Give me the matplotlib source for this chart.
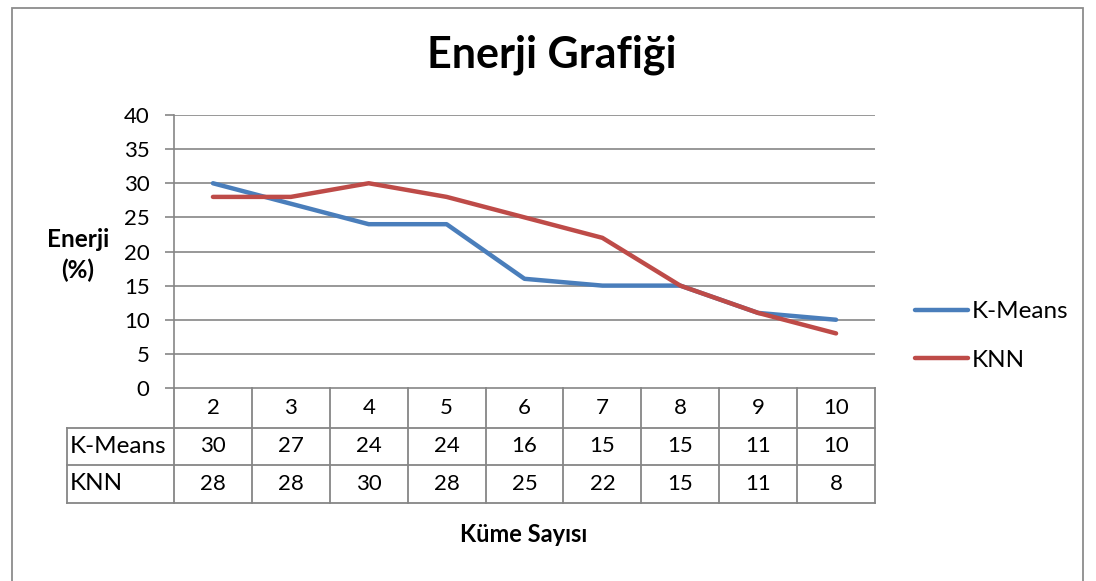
import matplotlib
matplotlib.use("Agg")
import matplotlib.pyplot as plt
from matplotlib.patches import Rectangle
from matplotlib.lines import Line2D

plt.rcParams['font.family'] = ['Lato', 'DejaVu Sans']

categories = ["2", "3", "4", "5", "6", "7", "8", "9", "10"]
kmeans = [30, 27, 24, 24, 16, 15, 15, 11, 10]
knn = [28, 28, 30, 28, 25, 22, 15, 11, 8]
series_names = ["K-Means", "KNN"]
title = "Enerji Grafiği"
ylabel = "Enerji\n(%)"
xlabel = "Küme Sayısı"
yticks = [0, 5, 10, 15, 20, 25, 30, 35, 40]

BLUE = "#4A7EBB"
RED = "#BE4B48"
GRID = "#868686"

W, H = 1096, 581
fig = plt.figure(figsize=(W / 100, H / 100), dpi=100)
fig.patch.set_facecolor("white")

# outer chart border
fig.add_artist(Rectangle((12 / W, -0.02), (1083 - 12) / W, 1 - 8 / H + 0.02,
                         transform=fig.transFigure, fill=False,
                         edgecolor="#8C8C8C", linewidth=1.3))

left, right, top, bottom = 174, 875, 115, 388
ax = fig.add_axes([left / W, 1 - bottom / H, (right - left) / W, (bottom - top) / H])

n = len(categories)
x = list(range(n))
ax.plot(x, kmeans, color=BLUE, linewidth=3.2, solid_capstyle="round", zorder=3)
ax.plot(x, knn, color=RED, linewidth=3.2, solid_capstyle="round", zorder=3)

fs = 16
fs_txt = 17.5
ax.set_xlim(-0.5, n - 0.5)
ax.set_ylim(0, 40)
ax.set_yticks(yticks)
ax.set_yticklabels([str(v) for v in yticks], fontsize=fs)
ax.tick_params(axis="y", length=6.5, width=1.2, color=GRID, pad=11)
ax.set_xticks([])
for yv in yticks[1:]:
    ax.axhline(yv, color=GRID, linewidth=1.2, zorder=1)
for s in ["top", "right"]:
    ax.spines[s].set_visible(False)
ax.spines["left"].set_color(GRID)
ax.spines["left"].set_linewidth(1.2)
ax.spines["bottom"].set_color(GRID)
ax.spines["bottom"].set_linewidth(1.2)

# data table below axes
tr = ax.get_xaxis_transform()
plot_h = bottom - top
def yfrac(py):
    return (bottom - py) / plot_h

rows_y = [388, 428, 465, 503]
lab_x = -0.5 - (174 - 67) / ((right - left) / n)
kw = dict(transform=tr, clip_on=False, color=GRID, linewidth=1.3)
for py in rows_y[1:]:
    ax.add_line(Line2D([lab_x, n - 0.5], [yfrac(py)] * 2, **kw))
for i in range(n + 1):
    ax.add_line(Line2D([i - 0.5, i - 0.5], [yfrac(388), yfrac(503)], **kw))
ax.add_line(Line2D([lab_x, lab_x], [yfrac(428), yfrac(503)], **kw))

for i, c in enumerate(categories):
    ax.text(i, yfrac((388 + 428) / 2), c, transform=tr, ha="center", va="center", fontsize=fs)
    ax.text(i, yfrac((428 + 465) / 2), str(kmeans[i]), transform=tr, ha="center", va="center", fontsize=fs)
    ax.text(i, yfrac((465 + 503) / 2), str(knn[i]), transform=tr, ha="center", va="center", fontsize=fs)
ax.text(lab_x + 0.03, yfrac((428 + 465) / 2), series_names[0], transform=tr, ha="left", va="center", fontsize=fs_txt)
ax.text(lab_x + 0.03, yfrac((465 + 503) / 2), series_names[1], transform=tr, ha="left", va="center", fontsize=fs_txt)

# title and axis labels
fig.text(552 / W, 1 - 55 / H, title, ha="center", va="center", fontsize=31, fontweight="bold")
fig.text(78 / W, 1 - 255 / H, ylabel, ha="center", va="center", fontsize=17.5, fontweight="bold",
         linespacing=1.4)
fig.text(524 / W, 1 - 535 / H, xlabel, ha="center", va="center", fontsize=17, fontweight="bold")

# legend
handles = [Line2D([], [], color=BLUE, linewidth=3.2, solid_capstyle="round"),
           Line2D([], [], color=RED, linewidth=3.2, solid_capstyle="round")]
fig.legend(handles, series_names, loc="center left", bbox_to_anchor=(915 / W, 1 - 336 / H),
           frameon=False, fontsize=fs_txt, handlelength=2.2, handletextpad=0.15,
           labelspacing=1.15, borderaxespad=0, borderpad=0)

fig.savefig("out.png", dpi=100)
